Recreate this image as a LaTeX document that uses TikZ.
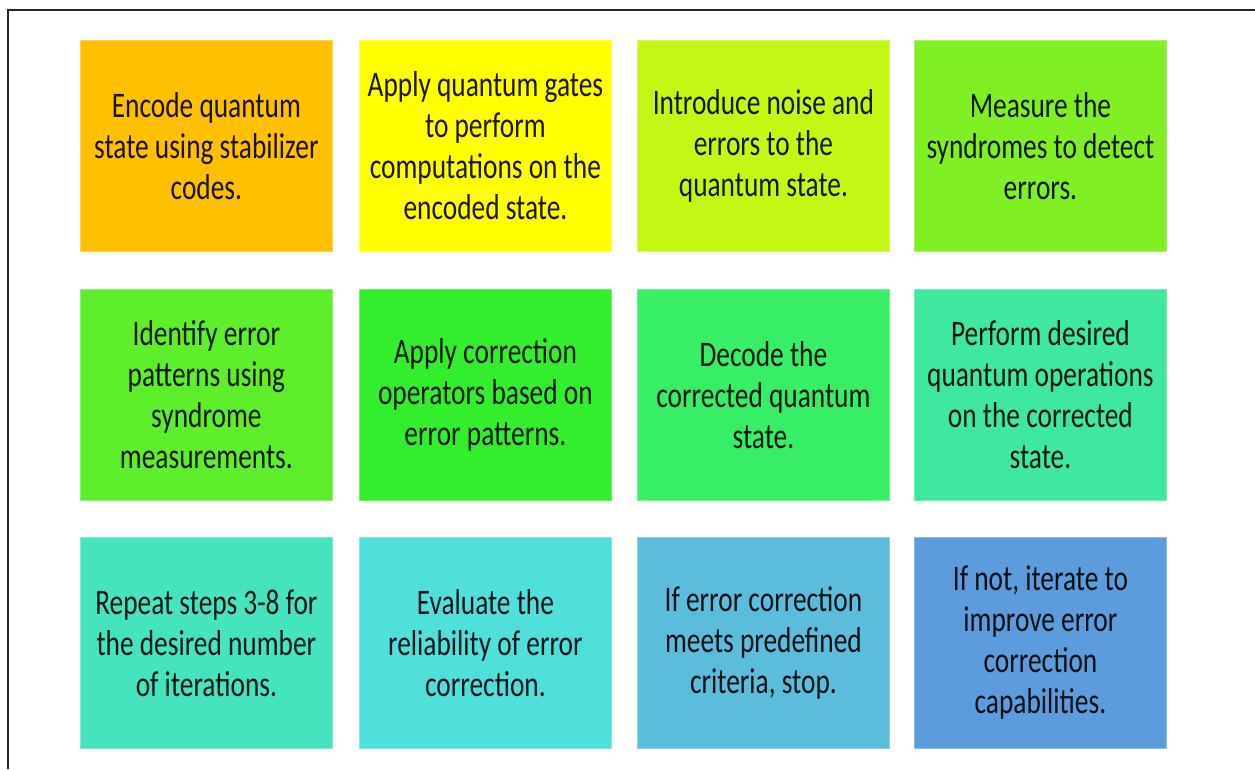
\documentclass[tikz,border=0pt]{standalone}
\usepackage{fontspec}
\setmainfont{Carlito}[FakeStretch=0.76]

\definecolor{cA}{HTML}{FFC000}
\definecolor{cB}{HTML}{FFFF00}
\definecolor{cC}{HTML}{C2F814}
\definecolor{cD}{HTML}{80F024}
\definecolor{cE}{HTML}{5EEE2C}
\definecolor{cF}{HTML}{33EE2C}
\definecolor{cG}{HTML}{38EE66}
\definecolor{cH}{HTML}{3EE89E}
\definecolor{cI}{HTML}{46E4BE}
\definecolor{cJ}{HTML}{50E0DC}
\definecolor{cK}{HTML}{5CBCDC}
\definecolor{cL}{HTML}{5C9CDC}

\tikzset{
  card/.style={anchor=north west, minimum width=252pt, minimum height=211pt,
    inner sep=0pt, align=center, fill=#1, draw=#1!70!white, line width=0.8pt,
    text=#1!10!black, font=\fontsize{36}{41}\selectfont},
  frameline/.style={line width=2.2pt, black!85}
}

\begin{document}
\begin{tikzpicture}[x=1pt, y=-1pt]
  \useasboundingbox (0,0) rectangle (1255,769);
  \fill[white] (0,0) rectangle (1255,769);

  % outer frame (top and left edges)
  \coordinate (ftr) at (1255,10);
  \coordinate (ftl) at (8,10);
  \coordinate (fbl) at (8,769);
  \draw[frameline] (ftr) -- (ftl) -- (fbl);

  % row 1
  \node[card=cA] (s1) at (80,40)  {Encode quantum\\state using stabilizer\\codes.};
  \node[card=cB] (s2) at (359,40) {Apply quantum gates\\to perform\\computations on the\\encoded state.};
  \node[card=cC] (s3) at (637,40) {Introduce noise and\\errors to the\\quantum state.};
  \node[card=cD] (s4) at (914,40) {Measure the\\syndromes to detect\\errors.};

  % row 2
  \node[card=cE] (s5) at (80,289)  {Identify error\\patterns using\\syndrome\\measurements.};
  \node[card=cF] (s6) at (359,289) {Apply correction\\operators based on\\error patterns.};
  \node[card=cG] (s7) at (637,289) {Decode the\\corrected quantum\\state.};
  \node[card=cH] (s8) at (914,289) {Perform desired\\quantum operations\\on the corrected\\state.};

  % row 3
  \node[card=cI] (s9)  at (80,537)  {Repeat steps 3-8 for\\the desired number\\of iterations.};
  \node[card=cJ] (s10) at (359,537) {Evaluate the\\reliability of error\\correction.};
  \node[card=cK] (s11) at (637,537) {If error correction\\meets predefined\\criteria, stop.};
  \node[card=cL] (s12) at (914,537) {If not, iterate to\\improve error\\correction\\capabilities.};
\end{tikzpicture}
\end{document}
